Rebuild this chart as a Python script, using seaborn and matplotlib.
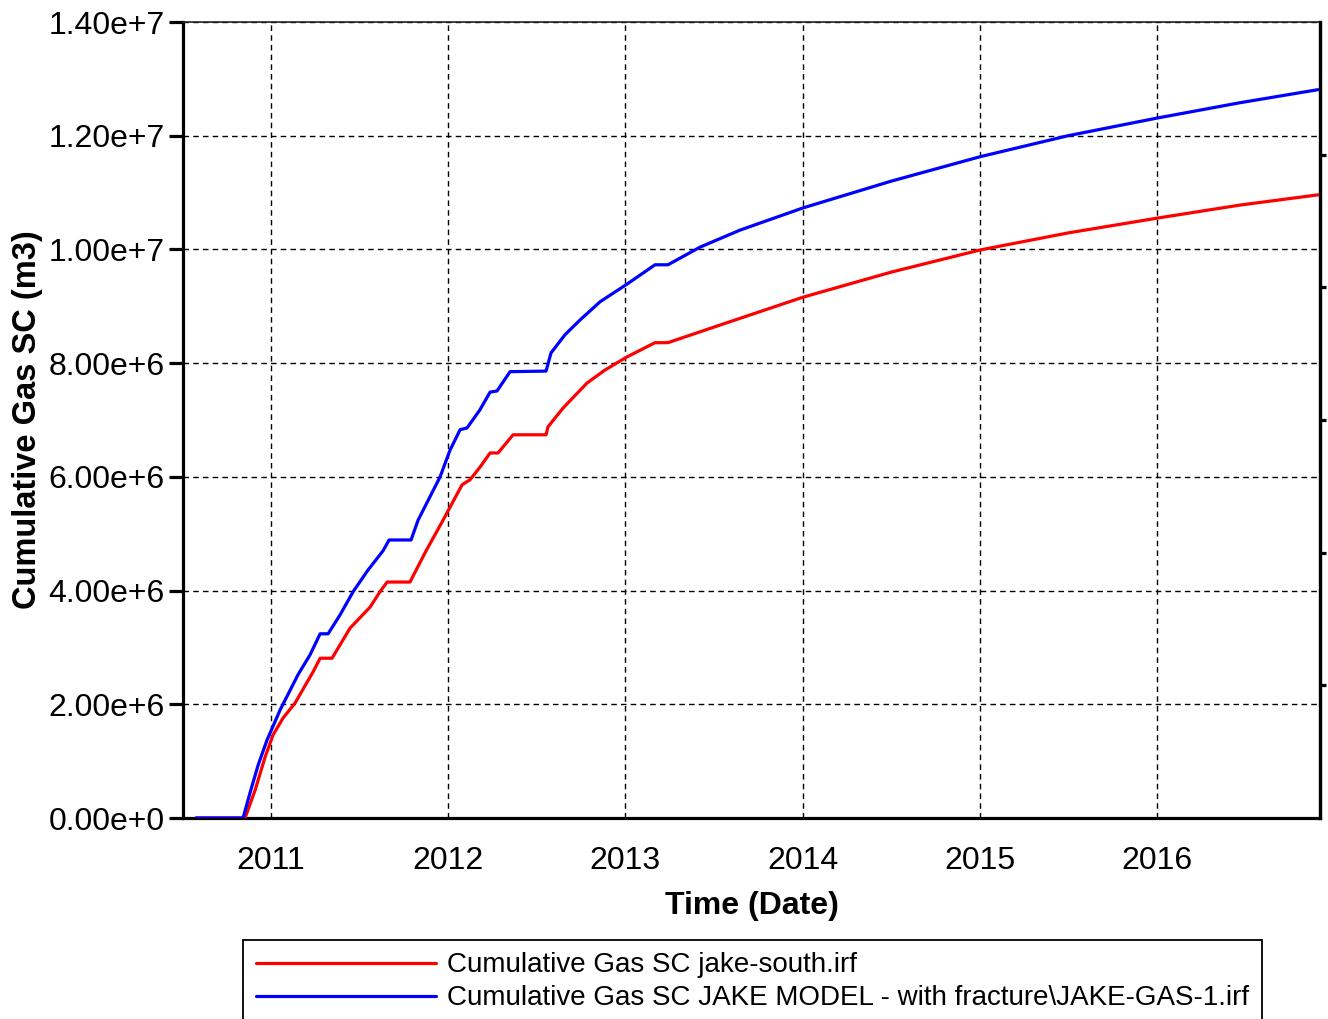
import matplotlib
matplotlib.use("Agg")
import matplotlib.pyplot as plt
import matplotlib.ticker as mticker
import seaborn as sns
import pandas as pd
import numpy as np

# ---- data (decimal years, cumulative gas m3) ----
blue_years = [2010.577, 2010.842, 2010.881, 2010.927, 2010.977, 2011.051, 2011.152, 2011.220,
              2011.277, 2011.322, 2011.389, 2011.463, 2011.547, 2011.632, 2011.666, 2011.790,
              2011.830, 2011.954, 2012.010, 2012.067, 2012.106, 2012.179, 2012.236, 2012.275,
              2012.349, 2012.552, 2012.580, 2012.659, 2012.744, 2012.857, 2013.009, 2013.167,
              2013.240, 2013.421, 2013.647, 2014.002, 2014.499, 2015.001, 2015.498, 2016.000,
              2016.468, 2016.909]
blue_values = [0.0, 0.0, 0.44e6, 0.93e6, 1.37e6, 1.90e6, 2.52e6, 2.87e6,
               3.24e6, 3.24e6, 3.57e6, 3.98e6, 4.36e6, 4.70e6, 4.89e6, 4.89e6,
               5.24e6, 6.00e6, 6.47e6, 6.83e6, 6.86e6, 7.18e6, 7.49e6, 7.51e6,
               7.85e6, 7.86e6, 8.18e6, 8.50e6, 8.76e6, 9.08e6, 9.39e6, 9.73e6,
               9.73e6, 10.04e6, 10.34e6, 10.73e6, 11.20e6, 11.63e6, 12.00e6, 12.31e6,
               12.58e6, 12.81e6]

red_years = [2010.577, 2010.853, 2010.910, 2010.966, 2011.011, 2011.068, 2011.135, 2011.237,
             2011.277, 2011.344, 2011.446, 2011.559, 2011.615, 2011.655, 2011.784, 2011.875,
             2011.971, 2012.078, 2012.123, 2012.179, 2012.236, 2012.281, 2012.366, 2012.552,
             2012.563, 2012.648, 2012.783, 2012.885, 2013.009, 2013.167, 2013.240, 2013.534,
             2014.002, 2014.499, 2015.001, 2015.498, 2016.000, 2016.468, 2016.909]
red_values = [0.0, 0.0, 0.49e6, 1.07e6, 1.46e6, 1.76e6, 2.02e6, 2.57e6,
              2.81e6, 2.81e6, 3.34e6, 3.71e6, 3.98e6, 4.15e6, 4.15e6, 4.70e6,
              5.24e6, 5.86e6, 5.95e6, 6.17e6, 6.42e6, 6.42e6, 6.74e6, 6.74e6,
              6.88e6, 7.21e6, 7.65e6, 7.88e6, 8.11e6, 8.36e6, 8.36e6, 8.67e6,
              9.16e6, 9.60e6, 9.99e6, 10.29e6, 10.55e6, 10.78e6, 10.96e6]

red_label = "Cumulative Gas SC jake-south.irf"
blue_label = "Cumulative Gas SC JAKE MODEL - with fracture\\JAKE-GAS-1.irf"
year_ticks = [2011, 2012, 2013, 2014, 2015, 2016]
y_ticks = [0, 2e6, 4e6, 6e6, 8e6, 10e6, 12e6, 14e6]

sns.set_style("white")
plt.rcParams['font.family'] = ['Liberation Sans', 'DejaVu Sans']
plt.rcParams['text.color'] = 'black'
plt.rcParams['axes.labelcolor'] = 'black'

fig = plt.figure(figsize=(13.28, 10.19), dpi=100)
ax = fig.add_axes([183/1328, 1 - 818/1019, (1320 - 183)/1328, (818 - 22)/1019])

df_red = pd.DataFrame({"t": red_years, "v": red_values})
df_blue = pd.DataFrame({"t": blue_years, "v": blue_values})
sns.lineplot(data=df_red, x="t", y="v", ax=ax, color="#ff0000", lw=2.3,
             estimator=None, sort=False, label=red_label, zorder=3)
sns.lineplot(data=df_blue, x="t", y="v", ax=ax, color="#0000ff", lw=2.3,
             estimator=None, sort=False, label=blue_label, zorder=4)

ax.set_xlim(2010.503, 2016.920)
ax.set_ylim(0, 1.4e7)
ax.set_xticks(year_ticks)
ax.set_xticklabels([str(y) for y in year_ticks])
ax.set_yticks(y_ticks)

def fmt(v, pos):
    s = f"{v:.2e}"
    mant, exp = s.split("e")
    sign = exp[0]
    return f"{mant}e{sign}{int(exp[1:])}"

ax.yaxis.set_major_formatter(mticker.FuncFormatter(fmt))
ax.tick_params(axis="both", which="major", direction="out", length=10, width=2.3,
               color="black", labelsize=23, labelcolor="black")
ax.tick_params(axis="x", pad=10)
ax.tick_params(axis="y", pad=3)

ax.grid(True, color="black", linestyle=(0, (4, 3)), linewidth=1.0)
for side in ["left", "bottom", "right"]:
    ax.spines[side].set_visible(True)
    ax.spines[side].set_color("black")
    ax.spines[side].set_linewidth(2.3)
ax.spines["top"].set_visible(True)
ax.spines["top"].set_color("#222222")
ax.spines["top"].set_linewidth(1.2)

ax.set_xlabel("Time (Date)", fontsize=23, fontweight="bold", labelpad=11, color="black")
ax.set_ylabel("Cumulative Gas SC (m3)", fontsize=23.5, fontweight="bold", labelpad=4,
              color="black")

# right-hand axis ticks (no labels)
ax2 = ax.twinx()
ax2.set_ylim(0, 6)
ax2.set_yticks([1, 2, 3, 4, 5])
ax2.set_yticklabels([])
ax2.tick_params(axis="y", direction="out", length=4, width=2.3, color="black")
for side in ["left", "bottom", "top"]:
    ax2.spines[side].set_visible(False)
ax2.spines["right"].set_visible(True)
ax2.spines["right"].set_color("black")
ax2.spines["right"].set_linewidth(2.3)
ax2.grid(False)

handles, labels = ax.get_legend_handles_labels()
if ax.legend_:
    ax.legend_.remove()
leg = fig.legend(handles, labels, loc="upper left",
                 bbox_to_anchor=(243/1328, 1 - 940/1019), bbox_transform=fig.transFigure,
                 fontsize=20, frameon=True, fancybox=False, framealpha=1,
                 edgecolor="black", borderpad=0.45, handlelength=6.5,
                 handletextpad=0.4, labelspacing=0.25, borderaxespad=0)
leg.get_frame().set_linewidth(1.3)
for line in leg.get_lines():
    line.set_linewidth(2.3)
for t in leg.get_texts():
    t.set_color("black")

fig.savefig("out.png", dpi=100)
